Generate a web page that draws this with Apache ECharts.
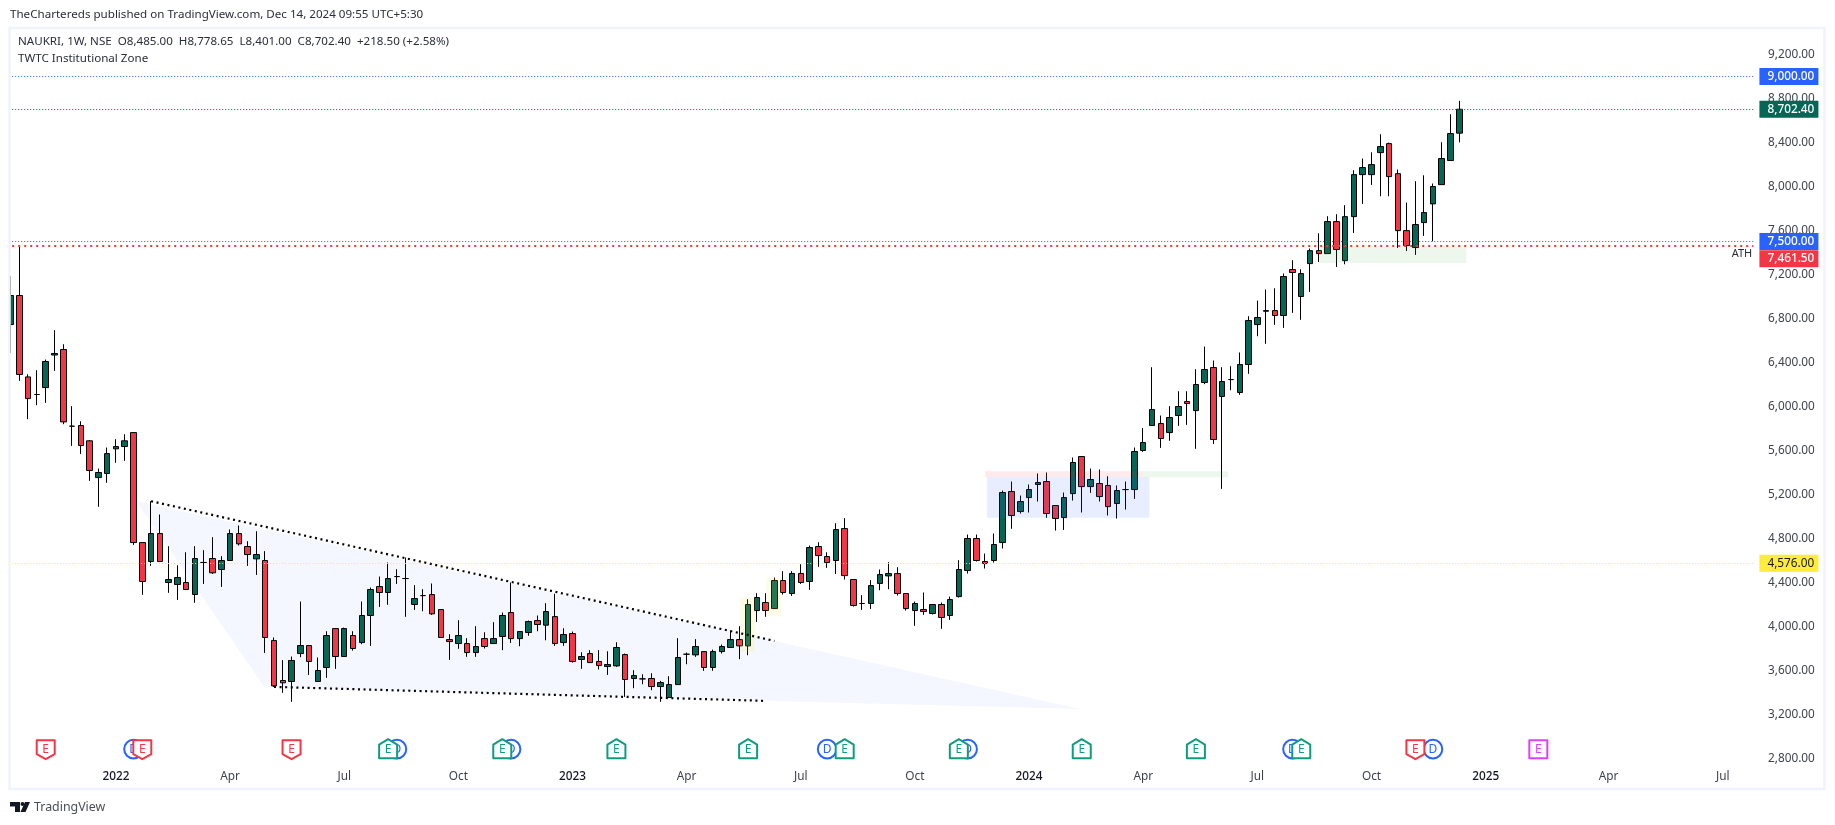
<!DOCTYPE html>
<html>
<head>
<meta charset="utf-8">
<title>NAUKRI 1W</title>
<style>
html, body { margin: 0; padding: 0; background: #fff; }
#main { width: 1835px; height: 825px; }
</style>
<script src="https://cdn.jsdelivr.net/npm/echarts@6/dist/echarts.min.js"></script>
</head>
<body>
<div id="main"></div>
<script>
// weekly candles, first week is 2021-10-11
var opens = [6745,7009,6269,6109,6172,6468,6518,5821,5827,5688,5354,5391,5615,5636,5763,4763,4591,4845,4400,4382,
  4400,4291,4582,4618,4518,4600,4845,4727,4615,4600,3872,3509,3500,3754,3827,3500,3627,3981,3727,3918,
  3854,4100,4363,4309,4454,4436,4200,4281,4290,4154,3881,3845,3845,3763,3890,3845,3909,4127,3890,3945,
  4054,4012,4090,3854,3936,3700,3754,3682,3636,3642,3745,3527,3524,3527,3454,3354,3472,3748,3742,3772,
  3627,3772,3809,3881,3824,4145,4218,4163,4418,4300,4482,4409,4727,4636,4600,4890,4427,4209,4209,4391,
  4460,4481,4300,4145,4154,4118,4200,4100,4272,4509,4800,4591,4600,4763,5227,5045,5172,5291,5318,5100,
  4990,5208,5545,5272,5300,5282,5118,5245,5245,5600,5827,5845,5763,5918,6045,5963,6218,6354,6091,6245,
  6127,6382,6745,6866,6872,6827,7245,7000,7299,7417,7390,7681,7326,7726,8108,8108,8308,8390,8117,7599,
  7445,7672,7842,8017,8236,8485];
var closes = [7009,6291,6072,6109,6409,6482,5860,5821,5645,5418,5400,5572,5636,5688,4763,4409,4845,4591,4427,4445,
  4336,4618,4582,4488,4600,4845,4751,4654,4654,3900,3460,3488,3691,3827,3682,3600,3918,3727,3981,3800,
  4100,4336,4309,4436,4454,4436,4254,4281,4115,3900,3863,3918,3763,3818,3818,3890,4100,3890,3954,4045,
  4018,4136,3845,3927,3682,3727,3672,3645,3654,3809,3518,3554,3524,3454,3490,3472,3718,3748,3818,3627,
  3772,3818,3881,3824,4200,4263,4145,4418,4309,4482,4400,4718,4645,4581,4881,4463,4191,4209,4372,4472,
  4481,4300,4163,4209,4136,4200,4082,4245,4518,4800,4600,4572,4745,5218,5009,5136,5245,5309,5027,4982,
  5172,5491,5272,5336,5181,5090,5236,5245,5591,5672,5972,5709,5900,6000,6027,6200,6336,5700,6227,6245,
  6382,6782,6809,6872,6827,7182,7218,7208,7417,7390,7681,7427,7726,8108,8172,8199,8363,8090,7599,7463,
  7654,7763,8000,8254,8481,8702.4];
var lows = [6487,6233,5885,6012,6033,6324,5839,5642,5569,5324,5088,5306,5488,5506,4742,4288,4551,4591,4306,4242,
  4336,4215,4387,4478,4360,4600,4736,4551,4469,3760,3451,3397,3315,3721,3560,3500,3533,3615,3727,3781,
  3839,3824,4178,4197,4387,4088,4151,4139,4106,3900,3697,3797,3724,3724,3800,3845,3785,3851,3821,3915,
  3957,3875,3824,3824,3672,3615,3672,3609,3560,3633,3360,3439,3475,3421,3315,3354,3472,3657,3724,3597,
  3597,3754,3809,3703,3739,4042,4088,4163,4290,4278,4387,4333,4542,4533,4478,4427,4181,4151,4160,4330,
  4339,4281,4145,4006,4106,4109,3979,4060,4263,4481,4591,4527,4581,4709,4888,5027,5036,5136,4988,4872,
  4878,5145,5036,5215,5136,5009,4982,5063,5160,5588,5827,5624,5688,5824,5833,5615,6203,5660,5251,6148,
  6106,6297,6639,6570,6742,6715,6851,6788,7042,7314,7390,7269,7293,7578,7842,8014,7911,7911,7442,7414,
  7378,7551,7502,8017,8236,8401];
var highs = [7185,7461.5,6293,6330,6427,6694,6566,6003,5866,5694,5436,5627,5703,5748,5763,4763,5139,5018,4730,4557,
  4675,4730,4694,4812,4639,4882,4918,4775,4866,4685,3900,3694,3727,4227,3827,3718,3957,3981,3990,3957,
  4227,4354,4454,4582,4521,4627,4376,4339,4391,4154,3930,4057,3894,4003,3948,4039,4127,4400,3954,4054,
  4100,4212,4297,3984,3954,3766,3785,3785,3775,3857,3754,3603,3566,3575,3506,3548,3894,3763,3885,3772,
  3790,3836,3963,4003,4248,4303,4303,4445,4503,4503,4566,4736,4766,4675,4939,4985,4427,4285,4421,4518,
  4585,4539,4300,4227,4309,4200,4218,4272,4603,4836,4836,4663,4845,5236,5318,5191,5291,5391,5400,5100,
  5218,5536,5545,5436,5427,5366,5282,5318,5627,5803,6357,5918,6003,6139,6139,6339,6545,6418,6357,6366,
  6491,6821,6963,7063,7075,7209,7330,7248,7436,7575,7730,7748,7830,8148,8254,8311,8475,8399,8154,7854,
  8048,8102,8027,8402,8657,8778.65];

// x axis: labelled week index and its text
var tickWeeks = [12,25,38,51,64,77,90,103,116,129,142,155,168,182,195];
var tickLabels = ['2022','Apr','Jul','Oct','2023','Apr','Jul','Oct','2024','Apr','Jul','Oct','2025','Apr','Jul'];
var weekCount = 199;

// horizontal price levels and their tags
var levelValues = [9000, 8702.4, 7500, 7461.5, 4576];
var levelTexts = ['9,000.00', '8,702.40', '7,500.00', '7,461.50', '4,576.00'];
var levelColors = ['#2962FF', '#056656', '#2962FF', '#F23645', '#FFEB3B'];
var levelWidths = [1, 1, 1, 2, 1];

// drawings: falling wedge
var wedgeWeeks = [14.3, 87, 121.8, 85.6, 28.9];
var wedgePrices = [5139, 3869, 3251, 3324, 3451];
var wedgeTopWeeks = [16, 87];
var wedgeTopPrices = [5139, 3869];
var wedgeBottomWeeks = [30, 86];
var wedgeBottomPrices = [3451, 3324];

// drawings: zones
var zoneFrom = [83.1, 86.1, 111.2, 111.0, 128.9, 149.1];
var zoneTo = [84.8, 87.8, 129.7, 128.9, 138.7, 165.8];
var zoneHigh = [4260, 4445, 5360, 5412, 5412, 7461];
var zoneLow = [3769, 4097, 4988, 5360, 5357, 7305];
var zoneColors = ['rgba(255,235,59,0.13)', 'rgba(255,235,59,0.13)', 'rgba(41,98,255,0.11)', 'rgba(242,54,69,0.11)', 'rgba(76,175,80,0.10)', 'rgba(76,175,80,0.10)'];

// earnings and dividend flags along the bottom, dividends first so they sit behind
var flagWeeks = [14,44,57,93,109,146,162, 4,15,32,43,56,69,84,95,108,122,135,147,160,174];
var flagKinds = ['d','d','d','d','d','d','d', 'r','r','r','g','g','g','g','g','g','g','g','g','r','m'];
var flagPrice = 2885;

var candleData = opens.map(function (o, i) {
    return [o, closes[i], lows[i], highs[i]];
});
var weeks = [];
for (var w = 0; w < weekCount; w++) {
    weeks.push(String(w));
}

var chart = echarts.init(document.getElementById('main'), null, {renderer: 'canvas'});

// category scale rounds to whole weeks, so add the fraction back by hand
function at(api, week, price) {
    var whole = Math.floor(week);
    var p = api.coord([whole, price]);
    p[0] += (week - whole) * api.size([1, 0])[0];
    return p;
}

function flagShape(kind) {
    if (kind === 'r') return [[-9, -9], [9, -9], [9, 5], [0, 10], [-9, 5]];
    if (kind === 'g') return [[0, -10], [9, -4.5], [9, 9], [-9, 9], [-9, -4.5]];
    return [[-9, -9], [9, -9], [9, 9], [-9, 9]];
}

var flagColors = {r: '#F23645', g: '#0F9D7F', m: '#E040FB', d: '#2962FF'};

function renderFlag(params, api) {
    var kind = flagKinds[params.dataIndex];
    var p = api.coord([flagWeeks[params.dataIndex], flagPrice]);
    var color = flagColors[kind];
    var body;
    if (kind === 'd') {
        body = {type: 'circle', shape: {cx: p[0], cy: p[1], r: 9.3}, style: {fill: '#fff', stroke: color, lineWidth: 2}};
    } else {
        body = {
            type: 'polygon',
            shape: {points: flagShape(kind).map(function (q) { return [p[0] + q[0], p[1] + q[1]]; })},
            style: {fill: '#fff', stroke: color, lineWidth: 2, lineJoin: 'round'}
        };
    }
    return {
        type: 'group',
        children: [body, {
            type: 'text',
            style: {
                text: kind === 'd' ? 'D' : 'E',
                x: p[0], y: p[1],
                align: 'center', verticalAlign: 'middle',
                fill: color,
                font: '12px "Noto Sans"'
            }
        }]
    };
}

var levelLines = levelValues.map(function (v, i) {
    return {
        yAxis: v,
        lineStyle: {color: levelColors[i], width: levelWidths[i], type: i === 3 ? [2, 4] : [1, 2]},
        label: {
            show: true,
            position: 'end',
            distance: 6,
            offset: i === 3 ? [0, 13] : [0, 0],
            formatter: levelTexts[i],
            color: i === 4 ? '#131722' : '#fff',
            backgroundColor: levelColors[i],
            padding: [3, 4, 2, 8],
            fontSize: 11.8,
            fontWeight: i === 4 ? 'normal' : 500,
            fontFamily: '"Noto Sans"',
            width: 47
        }
    };
});

option = {
    animation: false,
    backgroundColor: '#fff',
    grid: {left: 6.2, top: 32.5, width: weekCount * 8.78, height: 726, containLabel: false},
    xAxis: {
        type: 'category',
        data: weeks,
        axisLine: {show: false},
        axisTick: {show: false},
        splitLine: {show: false},
        axisLabel: {
            interval: function (i) { return tickWeeks.indexOf(i) >= 0; },
            margin: 12,
            hideOverlap: false,
            color: '#3f434e',
            fontSize: 11.8,
            fontFamily: '"Noto Sans"',
            formatter: function (v, i) {
                var t = tickLabels[tickWeeks.indexOf(i)];
                return /^\d/.test(t) ? '{year|' + t + '}' : t;
            },
            rich: {year: {color: '#131722', fontWeight: 500, fontSize: 11.8, fontFamily: '"Noto Sans"'}}
        }
    },
    yAxis: {
        type: 'value',
        position: 'right',
        min: 2800,
        max: 9400,
        interval: 400,
        axisLine: {show: false},
        axisTick: {show: false},
        splitLine: {show: false},
        axisLabel: {
            showMaxLabel: false,
            margin: 14.6,
            color: '#3f434e',
            fontSize: 11.8,
            fontFamily: '"Noto Sans"',
            formatter: function (v) {
                return v.toLocaleString('en-US', {minimumFractionDigits: 2, maximumFractionDigits: 2});
            }
        }
    },
    series: [{
        type: 'custom',
        z: 1,
        coordinateSystem: 'cartesian2d',
        data: [0],
        clip: true,
        renderItem: function (params, api) {
            return {
                type: 'polygon',
                shape: {points: wedgeWeeks.map(function (w, i) { return at(api, w, wedgePrices[i]); })},
                style: {fill: 'rgba(41,98,255,0.05)'}
            };
        }
    }, {
        type: 'candlestick',
        z: 2,
        barWidth: 6,
        data: candleData,
        itemStyle: {
            color: '#056656',
            color0: '#F23645',
            borderColor: '#000',
            borderColor0: '#000',
            borderColorDoji: '#000',
            borderWidth: 1
        },
        markLine: {
            silent: true,
            symbol: 'none',
            animation: false,
            data: levelLines
        }
    }, {
        type: 'custom',
        z: 3,
        coordinateSystem: 'cartesian2d',
        data: zoneFrom.map(function (v, i) { return i; }),
        clip: true,
        renderItem: function (params, api) {
            var i = params.dataIndex;
            var a = at(api, zoneFrom[i], zoneHigh[i]);
            var b = at(api, zoneTo[i], zoneLow[i]);
            return {
                type: 'rect',
                shape: {x: a[0], y: a[1], width: b[0] - a[0], height: b[1] - a[1]},
                style: {fill: zoneColors[i]}
            };
        }
    }, {
        type: 'line',
        z: 4,
        symbol: 'none',
        data: wedgeTopWeeks.map(function (w, i) { return [w, wedgeTopPrices[i]]; }),
        lineStyle: {color: '#000', width: 2.2, type: [2, 3.6]}
    }, {
        type: 'line',
        z: 4,
        symbol: 'none',
        data: wedgeBottomWeeks.map(function (w, i) { return [w, wedgeBottomPrices[i]]; }),
        lineStyle: {color: '#000', width: 2.2, type: [2, 3.6]}
    }, {
        type: 'custom',
        z: 5,
        coordinateSystem: 'cartesian2d',
        data: flagWeeks.map(function (v, i) { return i; }),
        clip: false,
        renderItem: renderFlag
    }],
    graphic: [
        // white strip hides what runs past the frame on the left
        {type: 'rect', z: 50, shape: {x: 0, y: 26, width: 9, height: 766}, style: {fill: '#fff'}},
        {type: 'rect', z: 51, shape: {x: 9.5, y: 28, width: 1815, height: 761}, style: {fill: 'none', stroke: '#F0F3FA', lineWidth: 2.5}},
        {type: 'text', z: 52, x: 10, y: 14.5, style: {text: 'TheChartereds published on TradingView.com, Dec 14, 2024 09:55 UTC+5:30', fill: '#2a2e39', font: '11.6px "Noto Sans"', verticalAlign: 'middle'}},
        {type: 'text', z: 52, x: 18, y: 41.5, style: {text: 'NAUKRI, 1W, NSE  O8,485.00  H8,778.65  L8,401.00  C8,702.40  +218.50 (+2.58%)', fill: '#2a2e39', font: '11.6px "Noto Sans"', verticalAlign: 'middle'}},
        {type: 'text', z: 52, x: 18, y: 58.5, style: {text: 'TWTC Institutional Zone', fill: '#2a2e39', font: '11.6px "Noto Sans"', verticalAlign: 'middle'}},
        {type: 'text', z: 52, x: 1742, y: 254, style: {text: 'ATH', fill: '#2a2e39', font: '11px "Noto Sans"', align: 'center', verticalAlign: 'middle'}},
        {type: 'polygon', z: 52, shape: {points: [[10, 802], [20, 802], [20, 812], [15, 812], [15, 806.5], [10, 806.5]]}, style: {fill: '#131722'}},
        {type: 'circle', z: 52, shape: {cx: 22.5, cy: 804, r: 2}, style: {fill: '#131722'}},
        {type: 'polygon', z: 52, shape: {points: [[25, 802], [30, 802], [25.5, 812], [20.5, 812]]}, style: {fill: '#131722'}},
        {type: 'text', z: 52, x: 34, y: 807, style: {text: 'TradingView', fill: '#4a4e58', font: '12.4px "Noto Sans"', verticalAlign: 'middle'}}
    ]
};
chart.setOption(option);
</script>
</body>
</html>
